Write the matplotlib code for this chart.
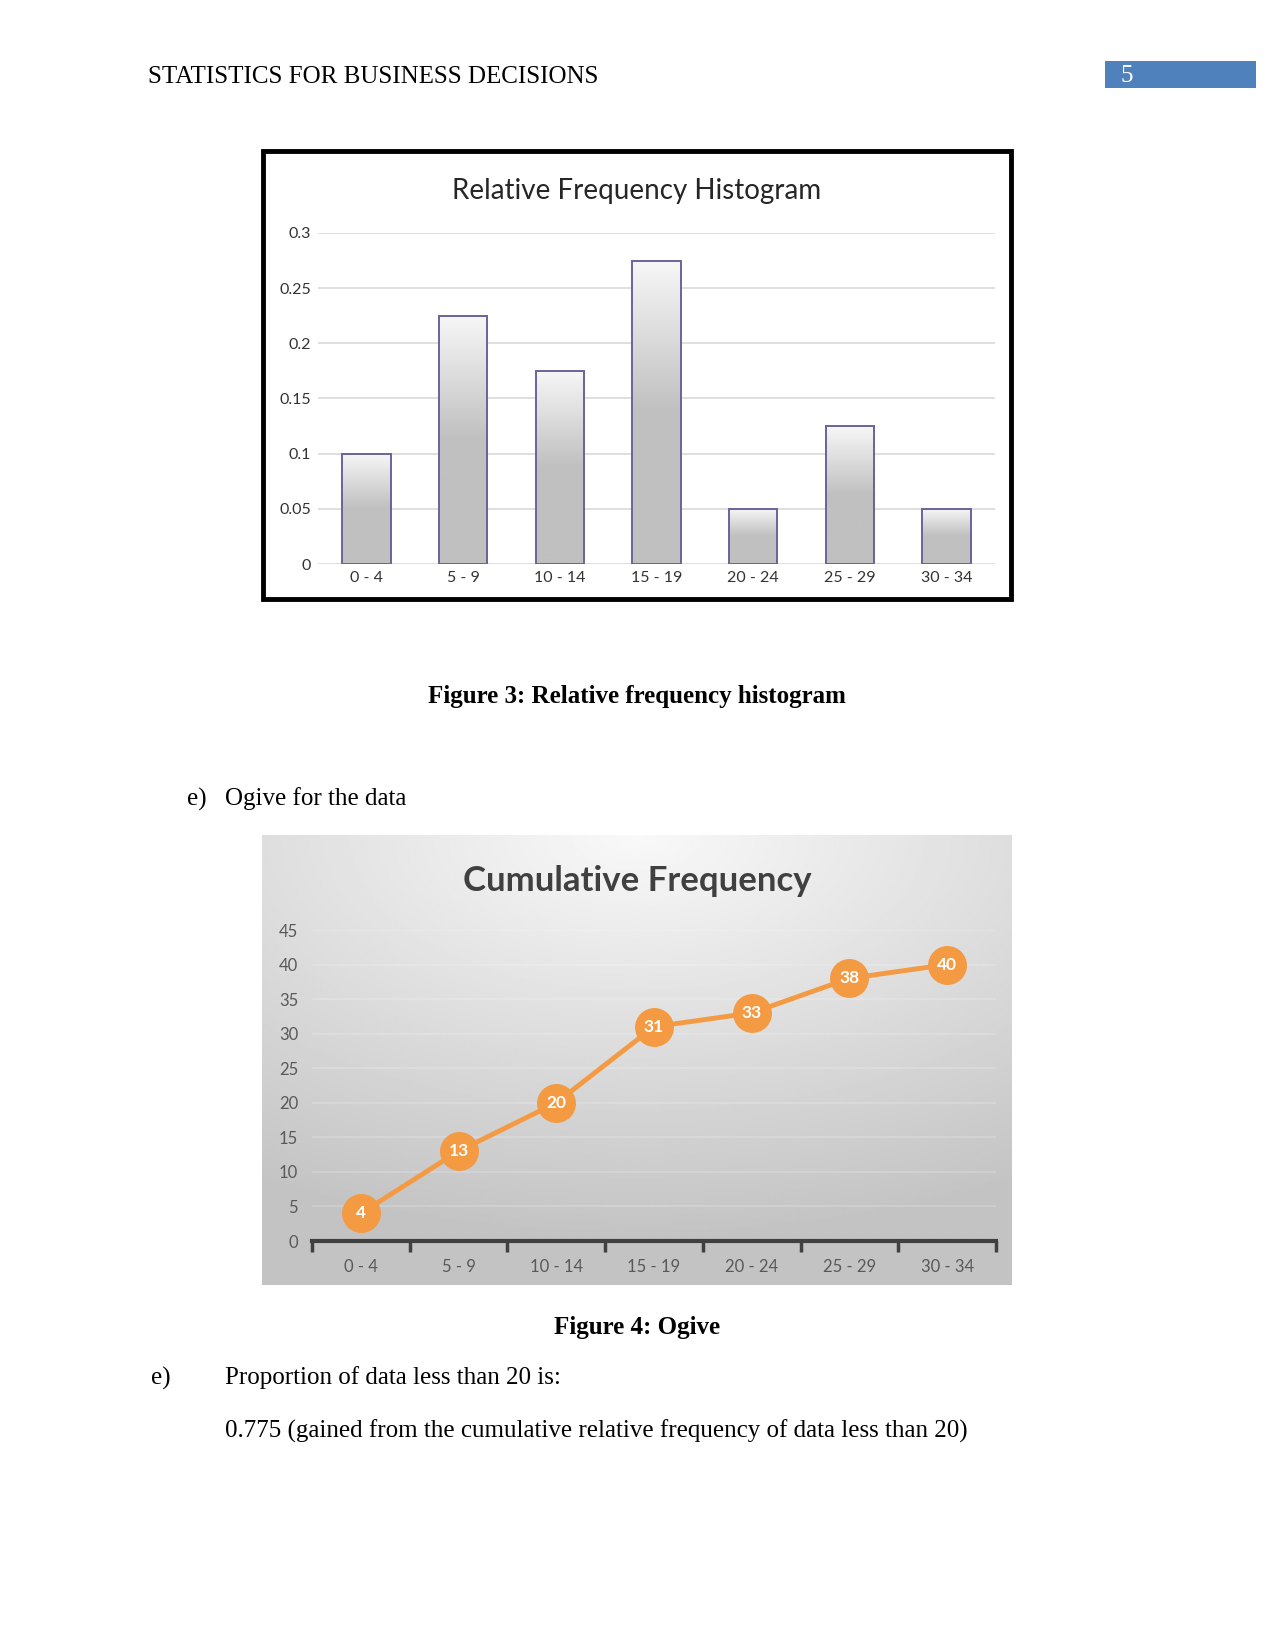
import numpy as np
import matplotlib
matplotlib.use("Agg")
import matplotlib.pyplot as plt
from matplotlib.patches import Rectangle
from matplotlib.colors import LinearSegmentedColormap

# ---- data ----
categories = ["0 - 4", "5 - 9", "10 - 14", "15 - 19", "20 - 24", "25 - 29", "30 - 34"]
rel_freq = [0.10, 0.225, 0.175, 0.275, 0.05, 0.125, 0.05]
cum_freq = [4, 13, 20, 31, 33, 38, 40]
rel_yticks = [0, 0.05, 0.1, 0.15, 0.2, 0.25, 0.3]
rel_yticklabels = ["0", "0.05", "0.1", "0.15", "0.2", "0.25", "0.3"]
cum_yticks = [0, 5, 10, 15, 20, 25, 30, 35, 40, 45]

W, H = 1275, 1651
fig = plt.figure(figsize=(W / 100, H / 100), dpi=100)
fig.patch.set_facecolor("white")

def fx(px):
    return px / W

def fy(py):
    return 1 - py / H

SERIF = "Liberation Serif"
SANS = "Lato"
BODY = 18

# ---- header ----
fig.text(fx(148), fy(77), "STATISTICS FOR BUSINESS DECISIONS", family=SERIF,
         fontsize=BODY, va="center", ha="left", color="black")
fig.patches.append(Rectangle((fx(1105), fy(88)), fx(151), 27 / H, transform=fig.transFigure,
                             facecolor="#4f81bd", edgecolor="none"))
fig.text(fx(1120), fy(76), "5", family=SERIF, fontsize=BODY, va="center", ha="left", color="white")

# ---- chart 1: relative frequency histogram ----
fig.patches.append(Rectangle((fx(263), fy(599)), 748 / W, 448 / H, transform=fig.transFigure,
                             facecolor="none", edgecolor="black", linewidth=3.5, zorder=5))
ax1 = fig.add_axes([fx(318), fy(564), (995 - 318) / W, (564 - 233) / H])
ax1.set_facecolor("none")
x = np.arange(len(categories))
bars = ax1.bar(x, rel_freq, width=0.5, facecolor="none", edgecolor="#6b6399", linewidth=1.4, zorder=3)
t = np.linspace(0, 1, 256)  # 0 bottom, 1 top
grad = np.clip((t - 0.5) / 0.5, 0, 1).reshape(-1, 1)
cmap_bar = LinearSegmentedColormap.from_list("bar", ["#c0c0c0", "#f7f7f7"])
for b in bars:
    x0, y0, w, h = b.get_x(), b.get_y(), b.get_width(), b.get_height()
    im = ax1.imshow(grad, cmap=cmap_bar, aspect="auto", extent=[x0, x0 + w, y0, y0 + h],
                    origin="lower", zorder=2, vmin=0, vmax=1)
    im.set_clip_path(b)
ax1.set_xlim(-0.5, len(categories) - 0.5)
ax1.set_ylim(0, 0.3)
ax1.set_yticks(rel_yticks)
ax1.set_yticklabels(rel_yticklabels, family=SANS, fontsize=11.5, color="#333333")
ax1.set_xticks(x)
ax1.set_xticklabels(categories, family=SANS, fontsize=11.5, color="#333333")
ax1.tick_params(length=0, pad=5)
ax1.grid(axis="y", color="#d9d9d9", linewidth=1.2, zorder=0)
ax1.set_axisbelow(True)
for s in ax1.spines.values():
    s.set_visible(False)
fig.text(fx(637), fy(191), "Relative Frequency Histogram", family=SANS, fontsize=20,
         ha="center", va="center", color="#262626")

fig.text(fx(637), fy(696), "Figure 3: Relative frequency histogram", family=SERIF,
         fontsize=BODY, fontweight="bold", ha="center", va="center")
fig.text(fx(187), fy(799), "e)", family=SERIF, fontsize=BODY, ha="left", va="center")
fig.text(fx(225), fy(799), "Ogive for the data", family=SERIF, fontsize=BODY, ha="left", va="center")

# ---- chart 2: ogive ----
bg = fig.add_axes([fx(262), fy(1285), 750 / W, 450 / H])
yy, xx = np.mgrid[0:1:300j, 0:1:400j]
d = np.sqrt(((xx - 0.5) / 1.0) ** 2 + (yy / 0.9) ** 2)
val = 0.975 - 0.21 * np.clip(d, 0, 1)
bg.imshow(val, cmap="gray", vmin=0, vmax=1, aspect="auto", extent=[0, 1, 0, 1])
bg.set_axis_off()

ax2 = fig.add_axes([fx(312), fy(1241), (996 - 312) / W, (1241 - 930) / H])
ax2.set_facecolor("none")
ax2.plot(x, cum_freq, color="#f39a43", linewidth=3.5, marker="o", markersize=27,
         markerfacecolor="#f39a43", markeredgecolor="#f39a43", zorder=3, clip_on=False)
for xi, v in zip(x, cum_freq):
    ax2.text(xi, v, str(v), ha="center", va="center", color="white", fontsize=12.5,
             fontweight="bold", family=SANS, zorder=4)
ax2.set_xlim(-0.5, len(categories) - 0.5)
ax2.set_ylim(0, 45)
ax2.set_yticks(cum_yticks)
ax2.set_yticklabels([str(t) for t in cum_yticks], family=SANS, fontsize=12, color="#595959")
ax2.set_xticks(x)
ax2.set_xticklabels(categories, family=SANS, fontsize=12, color="#595959")
ax2.set_xticks(np.arange(-0.5, len(categories)), minor=True)
ax2.tick_params(axis="x", which="major", length=0, pad=13)
ax2.tick_params(axis="x", which="minor", length=8, width=2.5, color="#404040", direction="out")
ax2.tick_params(axis="y", length=0, pad=10)
ax2.grid(axis="y", color="white", alpha=0.2, linewidth=1.2, zorder=0)
for k, s in ax2.spines.items():
    s.set_visible(k == "bottom")
ax2.spines["bottom"].set_color("#404040")
ax2.spines["bottom"].set_linewidth(3)
fig.text(fx(637), fy(881), "Cumulative Frequency", family=SANS, fontsize=25, fontweight="bold",
         ha="center", va="center", color="#404040")

fig.text(fx(637), fy(1327), "Figure 4: Ogive", family=SERIF, fontsize=BODY, fontweight="bold",
         ha="center", va="center")
fig.text(fx(151), fy(1378), "e)", family=SERIF, fontsize=BODY, ha="left", va="center")
fig.text(fx(225), fy(1378), "Proportion of data less than 20 is:", family=SERIF, fontsize=BODY,
         ha="left", va="center")
fig.text(fx(225), fy(1431), "0.775 (gained from the cumulative relative frequency of data less than 20)",
         family=SERIF, fontsize=BODY, ha="left", va="center")

fig.savefig("out.png", dpi=100)
